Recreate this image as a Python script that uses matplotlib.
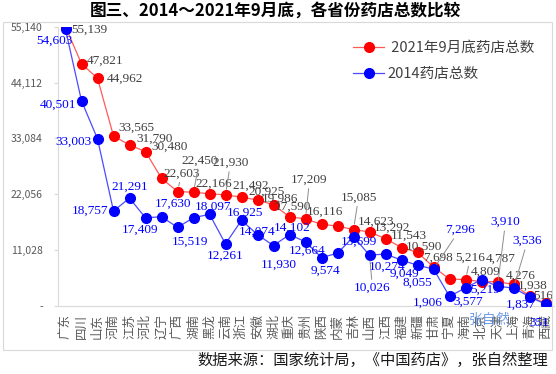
import matplotlib.pyplot as plt
from matplotlib.patches import Rectangle
from matplotlib.ticker import FuncFormatter

plt.rcParams['font.family'] = ['Noto Sans CJK SC', 'DejaVu Sans']

provinces = ['广东', '四川', '山东', '河南', '江苏', '河北', '辽宁', '广西', '湖南', '黑龙',
             '云南', '浙江', '安徽', '湖北', '重庆', '贵州', '陕西', '内蒙', '吉林', '山西',
             '江西', '福建', '新疆', '甘肃', '宁夏', '海南', '北京', '天津', '上海', '青海', '西藏']
stores_2021 = [55139, 47821, 44962, 33565, 31790, 30480, 25200, 22603, 22450, 22166,
               21930, 21492, 20925, 19986, 17590, 17209, 16116, 15790, 15085, 14623,
               13292, 11543, 10590, 7698, 5330, 5216, 4809, 4787, 4276, 1938, 516]
stores_2014 = [54603, 40501, 33003, 18757, 21291, 17409, 17630, 15519, 17430, 18097,
               12261, 16925, 14074, 11930, 14102, 12664, 9574, 10400, 13699, 10026,
               10274, 9049, 8055, 7296, 1906, 3577, 5219, 3910, 3536, 1837, 351]
name_2021 = ' 2021年9月底药店总数'
name_2014 = '2014药店总数'
yticks = [0, 11028, 22056, 33084, 44112, 55140]

# label placement (pixel offsets of label centre from the point), None = no label
off_2021 = [(24, -3), (24, 3), (27, 0), (23, 8), (25, 6), (24, 5), None, (4, 18), (6, 32), (4, 10),
            (5, 32), (9, 11), (9, 8), (6, 6), (3, 10), (4, 39), (3, 13), None, (5, 32), (7, 10),
            (6, 11), (7, 12), (6, 6), (4, 9), None, (5, 22), (4, 10), (3, 23), (7, 9), (3, 10), (-2, 7)]
off_2014 = [(-11, -11), (-24, -4), (-24, -3), (-23, 0), (0, 11), (-5, -12), (12, 13), (12, -14), None, (4, 8),
            (0, -12), (3, 8), (0, 3), (5, -19), (3, 7), (2, -9), (4, -13), None, (5, -5), (3, -33),
            (2, -13), (3, -14), (0, -18), (26, 39), (-22, -6), (3, -14), (4, -10), (8, 64), (14, 47), (-9, -8), (-6, -19)]
leaders_2021 = [7, 8, 10, 15, 18, 25]
leaders_2014 = [19, 23, 27, 28]

W, H = 556, 374
fig = plt.figure(figsize=(W / 100, H / 100), dpi=100)
ax = fig.add_axes([57.5 / W, 1 - 306 / H, 496 / W, (306 - 26.7) / H])

x = list(range(len(provinces)))
ax.plot(x, stores_2021, color='#FF5A5A', lw=0.9, marker='o', ms=7,
        mfc='#FF0000', mec='#FF0000', label=name_2021, zorder=3)
ax.plot(x, stores_2014, color='#4B4BFF', lw=0.9, marker='o', ms=7,
        mfc='#0000FF', mec='#0000FF', label=name_2014, zorder=4)


def add_labels(vals, offs, leaders, color):
    for i, (v, o) in enumerate(zip(vals, offs)):
        if o is None:
            continue
        arrow = None
        if i in leaders:
            arrow = dict(arrowstyle='-', color='#8C8C8C', lw=0.7, shrinkA=0, shrinkB=4)
        ax.annotate(f'{v:,}', xy=(i, v), xytext=o, textcoords='offset pixels',
                    ha='center', va='center', fontsize=9.5, color=color,
                    family=['Liberation Serif'], arrowprops=arrow, zorder=6)


add_labels(stores_2021, off_2021, leaders_2021, '#404040')
add_labels(stores_2014, off_2014, leaders_2014, '#0000FF')

ax.set_xlim(-0.5, len(provinces) - 0.5)
ax.set_ylim(0, 55140)
ax.set_yticks(yticks)
ax.yaxis.set_major_formatter(FuncFormatter(lambda v, p: '-' if v == 0 else f'{int(v):,}'))
ax.set_xticks(x)
ax.set_xticklabels(provinces, rotation=90, fontsize=9, color='#595959')
ax.tick_params(axis='x', length=0, pad=6)
ax.tick_params(axis='y', length=3, color='#D9D9D9', labelcolor='#595959', labelsize=7.5, pad=7.5)
for s in ['top', 'right']:
    ax.spines[s].set_visible(False)
for s in ['left', 'bottom']:
    ax.spines[s].set_color('#D9D9D9')
ax.patch.set_alpha(0)

ax.legend(loc='upper left', bbox_to_anchor=(346 / W, 1 - 34 / H), bbox_transform=fig.transFigure,
          frameon=False, fontsize=10.5, borderpad=0, handlelength=2.1, handletextpad=0.25,
          labelspacing=0.8, labelcolor='#404040', markerscale=1.0)

fig.add_artist(Rectangle((3 / W, 1 - 350 / H), 549 / W, 328 / H, transform=fig.transFigure,
                         fill=False, edgecolor='#D9D9D9', lw=0.8))
fig.text(275 / W, 1 - 11 / H, '图三、2014～2021年9月底，各省份药店总数比较',
         ha='center', va='center', fontsize=12, weight='bold')
fig.text(548 / W, 1 - 360 / H, '数据来源：国家统计局，《中国药店》，张自然整理',
         ha='right', va='center', fontsize=11, color='#1A1A1A')
fig.text(490 / W, 1 - 320 / H, '张自然', ha='center', va='center', fontsize=10,
         color='#5B8EE6', alpha=0.85, zorder=10)

fig.savefig('out.png', dpi=100)
